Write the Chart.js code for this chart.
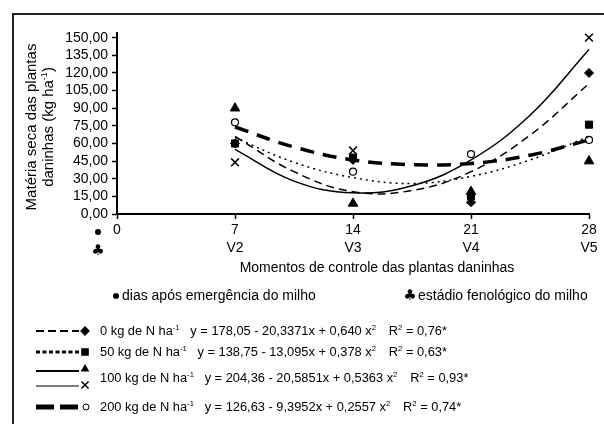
<!DOCTYPE html>
<html>
<head>
<meta charset="utf-8">
<script src="https://cdn.jsdelivr.net/npm/chart.js@4.4.1/dist/chart.umd.min.js"></script>
<style>
  html, body { margin: 0; padding: 0; background: #fff; }
  #wrap { width: 604px; height: 424px; }
</style>
</head>
<body>
<div id="wrap"><canvas id="chart" width="604" height="424"></canvas></div>
<script>
const FONT = '"Liberation Sans", Arial, sans-serif';

// days after emergence / growth stage
const dayTicks = [0, 7, 14, 21, 28];
const stageTicks = ['', 'V2', 'V3', 'V4', 'V5'];
const yTicks = [0, 15, 30, 45, 60, 75, 90, 105, 120, 135, 150];

const obsDays = [7, 14, 21, 28];
const obs0kg = [60, 46, 10, 120];      // diamond
const obs50kg = [60, 48, 15, 76];      // square
const obs100kgTri = [90, 9, 19, 45];   // triangle
const obs100kgX = [44, 54, 12, 150];   // cross
const obs200kg = [78, 36, 51, 63];     // open circle

// fitted curves
const fitDays = [7, 10.5, 14, 17.5, 21, 24.5, 28];
const fit0kg = [66, 36, 19, 20, 36, 67, 111];
const fit50kg = [65, 44, 31, 26, 32, 46, 66];
const fit100kg = [55, 28, 18, 24, 46, 84, 140];
const fit200kg = [74, 57, 46, 42, 43, 50, 63];

// legend texts
const doseLabels = ['0 kg de N ha', '50 kg de N ha', '100 kg de N ha', '200 kg de N ha'];
const eqLabels = ['y = 178,05 - 20,3371x + 0,640 x', 'y = 138,75 - 13,095x + 0,378 x',
  'y = 204,36 - 20,5851x + 0,5363 x', 'y = 126,63 - 9,3952x + 0,2557 x'];
const r2Labels = [' = 0,76*', ' = 0,63*', ' = 0,93*', ' = 0,74*'];

const xy = (xs, ys) => xs.map((x, i) => ({ x: x, y: ys[i] }));

function curve(data, dash, width) {
  return { data: xy(fitDays, data), borderColor: '#000', borderWidth: width, borderDash: dash,
    pointRadius: 0, tension: 0.4, fill: false, clip: false };
}
function marks(data, style, r, fill, bw) {
  return { data: xy(obsDays, data), showLine: false, pointStyle: style, pointRadius: r,
    pointBackgroundColor: fill, pointBorderColor: '#000', pointBorderWidth: bw, clip: false };
}

function drawRich(ctx, parts, x, y, size) {
  ctx.textAlign = 'left';
  ctx.textBaseline = 'alphabetic';
  parts.forEach(p => {
    const s = p[1] ? size * 0.6 : size;
    ctx.font = s + 'px ' + FONT;
    ctx.fillText(p[0], x, p[1] ? y - size * 0.42 : y);
    x += ctx.measureText(p[0]).width;
  });
  return x;
}
function richWidth(ctx, parts, size) {
  let w = 0;
  parts.forEach(p => {
    ctx.font = (p[1] ? size * 0.6 : size) + 'px ' + FONT;
    w += ctx.measureText(p[0]).width;
  });
  return w;
}

const decor = {
  id: 'decor',
  beforeDraw(chart) {
    const ctx = chart.ctx;
    ctx.save();
    ctx.fillStyle = '#fff';
    ctx.fillRect(0, 0, chart.width, chart.height);
    ctx.restore();
  },
  afterDraw(chart) {
    const ctx = chart.ctx;
    ctx.save();
    ctx.fillStyle = '#000';
    ctx.strokeStyle = '#000';

    // outer frame
    ctx.lineWidth = 2;
    ctx.strokeStyle = '#222';
    ctx.strokeRect(13, 14, 640, 460);
    ctx.strokeStyle = '#000';

    // y title (two rotated lines)
    const t1 = [['Matéria seca das plantas']];
    const t2 = [['daninhas (kg ha'], ['-1', true], [')']];
    ctx.save();
    ctx.translate(31, 127);
    ctx.rotate(-Math.PI / 2);
    drawRich(ctx, t1, -richWidth(ctx, t1, 15) / 2, 5, 15);
    ctx.restore();
    ctx.save();
    ctx.translate(48, 127);
    ctx.rotate(-Math.PI / 2);
    drawRich(ctx, t2, -richWidth(ctx, t2, 15) / 2, 5, 15);
    ctx.restore();

    // row markers under the x axis
    ctx.beginPath();
    ctx.arc(98, 232, 3, 0, Math.PI * 2);
    ctx.fill();
    ctx.font = '15px "DejaVu Sans", sans-serif';
    ctx.textAlign = 'center';
    ctx.textBaseline = 'middle';
    ctx.fillText('♣', 98, 251);

    // x title
    ctx.font = '14px ' + FONT;
    ctx.fillText('Momentos de controle das plantas daninhas', 377, 268);

    // legend for the two label rows
    ctx.beginPath();
    ctx.arc(116, 296, 3, 0, Math.PI * 2);
    ctx.fill();
    ctx.textAlign = 'left';
    ctx.fillText('dias após emergência do milho', 122, 296);
    ctx.font = '15px "DejaVu Sans", sans-serif';
    ctx.textAlign = 'center';
    ctx.fillText('♣', 410, 296);
    ctx.font = '14px ' + FONT;
    ctx.textAlign = 'left';
    ctx.fillText('estádio fenológico do milho', 418, 296);

    // equation legend
    const dp = Chart.helpers.drawPoint;
    const line = (y, dash, w, col) => {
      ctx.save();
      ctx.strokeStyle = col || '#000';
      ctx.lineWidth = w;
      ctx.setLineDash(dash);
      ctx.beginPath();
      ctx.moveTo(36, y);
      ctx.lineTo(79, y);
      ctx.stroke();
      ctx.restore();
    };
    line(331, [8, 4], 2);
    dp(ctx, { pointStyle: 'rectRot', radius: 3.5, borderWidth: 1 }, 85, 331);
    line(352, [4, 2.5], 3);
    dp(ctx, { pointStyle: 'rect', radius: 4, borderWidth: 1 }, 85, 352);
    line(371, [], 2);
    dp(ctx, { pointStyle: 'triangle', radius: 3, borderWidth: 1 }, 85, 369);
    line(386, [], 1.5, '#555');
    ctx.lineWidth = 1.5;
    dp(ctx, { pointStyle: 'crossRot', radius: 5, borderWidth: 1.5 }, 85, 385);
    line(407, [18, 6], 5);
    ctx.fillStyle = '#fff';
    ctx.lineWidth = 1;
    dp(ctx, { pointStyle: 'circle', radius: 3, borderWidth: 1 }, 86, 407);
    ctx.fillStyle = '#000';

    const rowsY = [331, 352, 378, 407];
    rowsY.forEach((y, i) => {
      ctx.save();
      ctx.translate(100, y + 4);
      ctx.scale(1.07, 1);
      let x = drawRich(ctx, [[doseLabels[i]], ['-1', true]], 0, 0, 12);
      x = drawRich(ctx, [[eqLabels[i]], ['2', true]], x + 10, 0, 12);
      drawRich(ctx, [['R'], ['2', true], [r2Labels[i]]], x + 12, 0, 12);
      ctx.restore();
    });
    ctx.restore();
  }
};

new Chart(document.getElementById('chart'), {
  type: 'line',
  data: {
    datasets: [
      curve(fit0kg, [8, 5], 1.5),
      curve(fit50kg, [2, 4], 1.5),
      curve(fit100kg, [], 1.5),
      curve(fit200kg, [14, 9], 3.5),
      marks(obs0kg, 'rectRot', 4.5, '#000', 1),
      marks(obs50kg, 'rect', 5, '#000', 1),
      marks(obs100kgTri, 'triangle', 5.5, '#000', 1),
      marks(obs100kgX, 'crossRot', 5.5, '#000', 1.5),
      marks(obs200kg, 'circle', 3.5, '#fff', 1.2)
    ]
  },
  options: {
    responsive: false,
    animation: false,
    layout: { padding: { left: 0, top: 33, right: 15, bottom: 0 } },
    plugins: { legend: { display: false }, tooltip: { enabled: false } },
    scales: {
      x: {
        type: 'linear',
        min: 0,
        max: 28,
        afterFit: s => { s.height = 210; },
        afterBuildTicks: s => { s.ticks = dayTicks.map(v => ({ value: v })); },
        ticks: {
          color: '#000',
          font: { family: FONT, size: 14, lineHeight: 1.3 },
          padding: 2,
          maxRotation: 0,
          autoSkip: false,
          callback: v => {
            const i = dayTicks.indexOf(v);
            return stageTicks[i] ? [String(v), stageTicks[i]] : String(v);
          }
        },
        grid: { drawOnChartArea: false, tickLength: 5, tickColor: '#000', tickWidth: 1.5 },
        border: { color: '#000', width: 2 }
      },
      y: {
        min: 0,
        max: 154,
        afterFit: s => { s.width = 117; },
        afterBuildTicks: s => { s.ticks = yTicks.map(v => ({ value: v })); },
        ticks: {
          color: '#000',
          font: { family: FONT, size: 14 },
          padding: 4,
          autoSkip: false,
          callback: v => v.toFixed(2).replace('.', ',')
        },
        grid: { drawOnChartArea: false, tickLength: 5, tickColor: '#000', tickWidth: 1.5 },
        border: { color: '#000', width: 2 }
      }
    }
  },
  plugins: [decor]
});
</script>
</body>
</html>
